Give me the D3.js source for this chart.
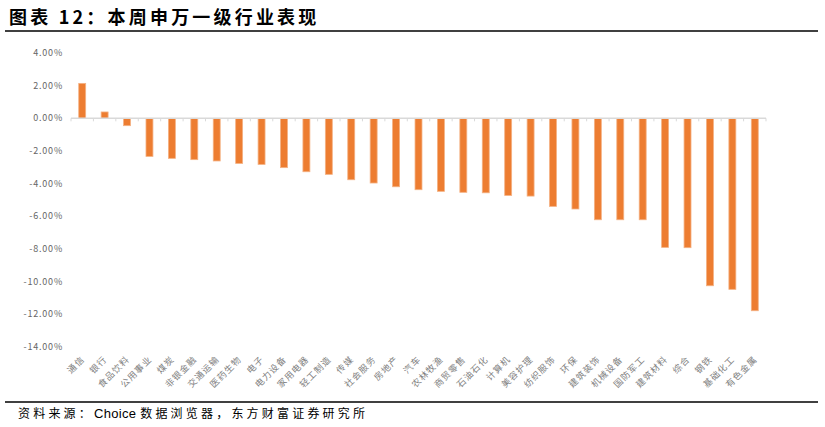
<!DOCTYPE html>
<html><head><meta charset="utf-8">
<script src="https://cdn.jsdelivr.net/npm/d3@7"></script>
<style>body{margin:0;background:#fff}svg{display:block}</style>
</head><body>
<script>
const categories = ["通信","银行","食品饮料","公用事业","煤炭","非银金融","交通运输","医药生物","电子","电力设备","家用电器","轻工制造","传媒","社会服务","房地产","汽车","农林牧渔","商贸零售","石油石化","计算机","美容护理","纺织服饰","环保","建筑装饰","机械设备","国防军工","建筑材料","综合","钢铁","基础化工","有色金属"];
const values = [2.14,0.39,-0.45,-2.33,-2.45,-2.53,-2.61,-2.76,-2.82,-3.02,-3.27,-3.43,-3.76,-3.96,-4.19,-4.37,-4.47,-4.53,-4.56,-4.72,-4.76,-5.39,-5.55,-6.21,-6.21,-6.21,-7.90,-7.92,-10.25,-10.47,-11.78];
const yTicks = [4,2,0,-2,-4,-6,-8,-10,-12,-14];
const title = "图表 12：本周申万一级行业表现";
const sourceParts = ["资料来源：", "Choice ", "数据浏览器，东方财富证券研究所"];

const W = 825, H = 427;
const svg = d3.select("body").append("svg").attr("width", W).attr("height", H);
const cjk = "'Noto Sans CJK SC','Noto Sans',sans-serif";

svg.append("text").attr("x", 9).attr("y", 24)
  .attr("font-family", cjk).attr("font-weight", "bold").attr("font-size", 18)
  .attr("letter-spacing", 3.2).attr("fill", "#000").text(title);
svg.append("line").attr("x1", 5).attr("x2", 818).attr("y1", 31).attr("y2", 31)
  .attr("stroke", "#000").attr("stroke-width", 1.3);
svg.append("line").attr("x1", 5).attr("x2", 818).attr("y1", 402).attr("y2", 402)
  .attr("stroke", "#000").attr("stroke-width", 1.3);
const src = svg.append("text").attr("x", 18).attr("y", 418)
  .attr("font-family", cjk).attr("font-size", 12).attr("fill", "#000");
src.selectAll("tspan").data(sourceParts).join("tspan")
  .attr("letter-spacing", (d, i) => i === 1 ? 0.3 : 3.2)
  .attr("font-family", (d, i) => i === 1 ? "'Liberation Sans',Arial,sans-serif" : cjk)
  .attr("font-size", (d, i) => i === 1 ? 13 : 12)
  .text(d => d);

const x = d3.scaleBand().domain(categories).range([71, 766]).paddingInner(0.69).paddingOuter(0.345);
const y = d3.scaleLinear().domain([-14, 4]).range([347, 53]);

// y labels
svg.append("g").selectAll("text").data(yTicks).join("text")
  .attr("x", 63).attr("y", d => y(d)).attr("dy", "0.35em")
  .attr("text-anchor", "end").attr("font-family", cjk).attr("font-size", 9)
  .attr("letter-spacing", 0.8).attr("fill", "#666666")
  .text(d => d3.format(".2f")(d).replace("−", "-") + "%");

// bars
svg.append("g").selectAll("rect").data(values).join("rect")
  .attr("x", (d, i) => x(categories[i]))
  .attr("width", x.bandwidth())
  .attr("y", d => y(Math.max(0, d)))
  .attr("height", d => Math.abs(y(d) - y(0)))
  .attr("fill", "#ED7D31").attr("stroke", "#F4B183").attr("stroke-width", 0.8);

// x axis line & ticks
const step = x.step();
svg.append("line").attr("x1", 71).attr("x2", 766).attr("y1", y(0)).attr("y2", y(0))
  .attr("stroke", "#D9D9D9").attr("stroke-width", 1.5);
const bounds = d3.range(categories.length + 1).map(i => 71 + i * step);
svg.append("g").selectAll("line").data(bounds).join("line")
  .attr("x1", d => d).attr("x2", d => d).attr("y1", y(0)).attr("y2", y(0) + 3)
  .attr("stroke", "#D9D9D9").attr("stroke-width", 1);

// x labels
svg.append("g").selectAll("text").data(categories).join("text")
  .attr("transform", d => `translate(${x(d) + x.bandwidth() / 2 + 3},360) rotate(-45)`)
  .attr("text-anchor", "end").attr("font-family", cjk).attr("font-size", 9)
  .attr("letter-spacing", 1).attr("fill", "#7F7F7F").text(d => d);
</script>
</body></html>
